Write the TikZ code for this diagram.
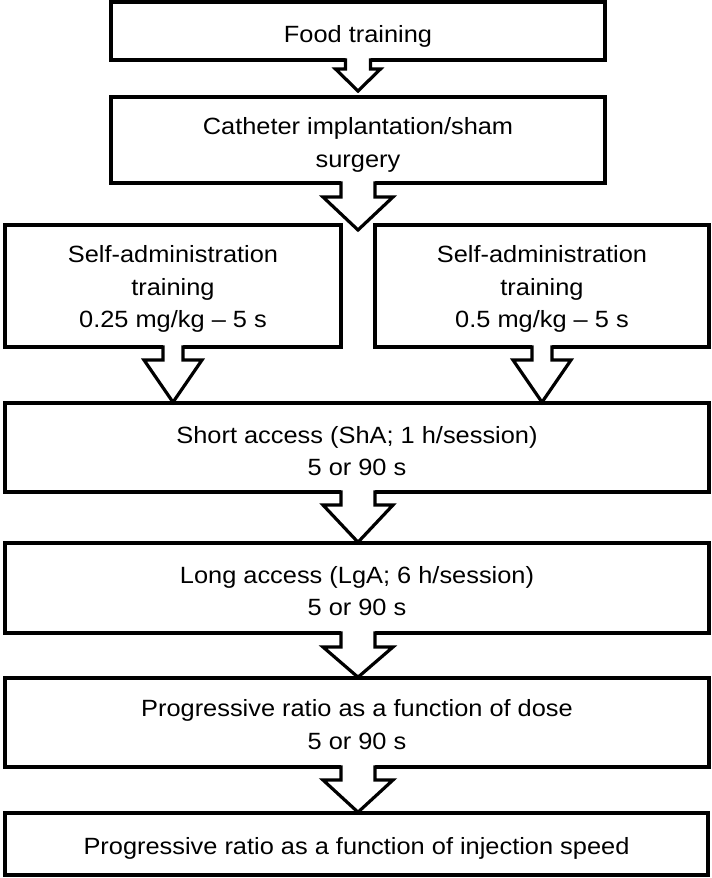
\documentclass[tikz,border=0pt]{standalone}
\usepackage{fontspec}
\setmainfont{Liberation Sans}[FakeStretch=1.08]
\usetikzlibrary{calc}
\newcommand\blkarrow[5]{%
  \fill[white] ($(#1)+(-#3,-2.5)$) -- ($(#1)+(-#3,#5)$) -- ($(#1)+(-#4,#5)$) -- (#2)
     -- ($(#1)+(#4,#5)$) -- ($(#1)+(#3,#5)$) -- ($(#1)+(#3,-2.5)$) -- cycle;
  \draw ($(#1)+(-#3,-1.6)$) -- ($(#1)+(-#3,#5)$) -- ($(#1)+(-#4,#5)$) -- (#2)
     -- ($(#1)+(#4,#5)$) -- ($(#1)+(#3,#5)$) -- ($(#1)+(#3,-1.6)$);
}
\begin{document}
\begin{tikzpicture}[x=1pt,y=-1pt, line width=3.2pt, line join=miter,
  box/.style={draw, rectangle, inner sep=0pt, outer sep=0pt},
  txt/.style={inner sep=0pt, align=center, font=\fontsize{23.5}{32.5}\selectfont}]
\useasboundingbox[fill=white] (0,0) rectangle (712,878);
\node[box, minimum width=494pt, minimum height=58pt] (food) at (358,31) {};
\node[box, minimum width=494pt, minimum height=86pt] (cath) at (358,140) {};
\node[box, minimum width=336pt, minimum height=122pt] (sa1) at (173,286) {};
\node[box, minimum width=334pt, minimum height=122pt] (sa2) at (542,286) {};
\node[box, minimum width=704pt, minimum height=89pt] (short) at (357,447.5) {};
\node[box, minimum width=704pt, minimum height=90pt] (long) at (357,588) {};
\node[box, minimum width=704pt, minimum height=89pt] (dose) at (357,722.5) {};
\node[box, minimum width=703pt, minimum height=62pt] (speed) at (356.5,844) {};
% texts
\node[txt, yshift=-5.5pt] (foodtxt) at (food) {Food training};
\node[txt, yshift=-5pt] (cathtxt) at (cath) {Catheter implantation/sham\\surgery};
\node[txt, yshift=-3pt] (sa1txt) at (sa1) {Self-administration\\training\\0.25 mg/kg \textendash{} 5 s};
\node[txt, yshift=-3pt] (sa2txt) at (sa2) {Self-administration\\training\\0.5 mg/kg \textendash{} 5 s};
\node[txt, yshift=-3.5pt] (shorttxt) at (short) {Short access (ShA; 1 h/session)\\5 or 90 s};
\node[txt, yshift=-3pt] (longtxt) at (long) {Long access (LgA; 6 h/session)\\5 or 90 s};
\node[txt, yshift=-2pt] (dosetxt) at (dose) {Progressive ratio as a function of dose\\5 or 90 s};
\node[txt, yshift=-4.5pt] (speedtxt) at (speed) {Progressive ratio as a function of injection speed};
% connector end points
\coordinate (t1) at ($(food.south |- cath.north)+(0,-6)$);
\coordinate (split) at (358,230);
\coordinate (s3) at (sa1.south);
\coordinate (t3) at ($(sa1.south |- short.north)+(0,-0.8)$);
\coordinate (s4) at (sa2.south);
\coordinate (t4) at ($(sa2.south |- short.north)+(0,-0.8)$);
\coordinate (s5) at (short.south -| food.south);
\coordinate (t5) at ($(food.south |- long.north)+(0,-0.8)$);
\coordinate (s6) at (long.south -| food.south);
\coordinate (t6) at ($(food.south |- dose.north)+(0,-0.8)$);
\coordinate (s7) at (dose.south -| food.south);
\coordinate (t7) at ($(food.south |- speed.north)+(0,-0.8)$);
% block arrows
\blkarrow{food.south}{t1}{12.5}{22.5}{9}
\blkarrow{cath.south}{split}{17}{35}{14}
\blkarrow{s3}{t3}{10}{29}{13}
\blkarrow{s4}{t4}{10}{29}{13}
\blkarrow{s5}{t5}{17}{35}{13}
\blkarrow{s6}{t6}{17}{35}{14}
\blkarrow{s7}{t7}{17}{35}{13}
\end{tikzpicture}
\end{document}
